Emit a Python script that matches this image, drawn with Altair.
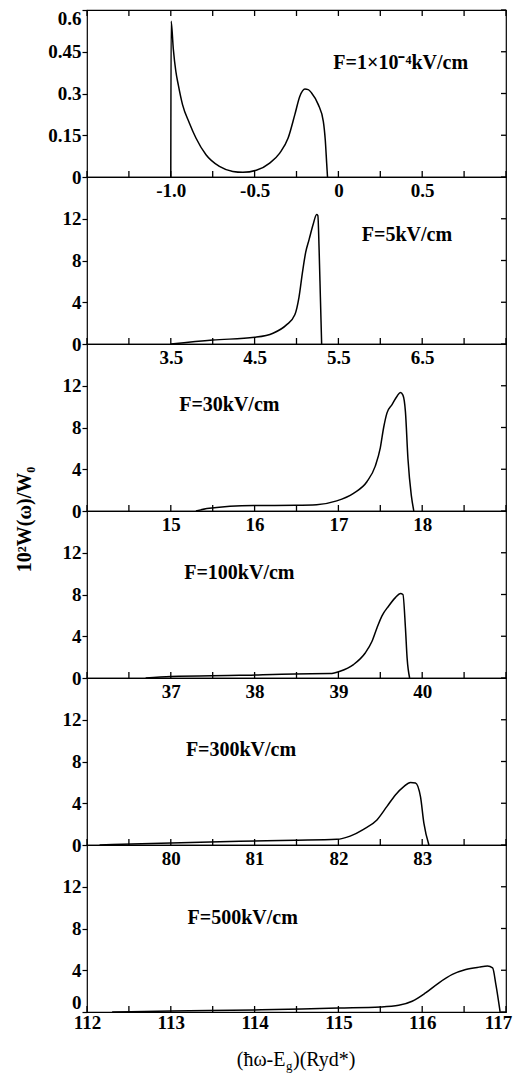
import altair as alt
import pandas as pd

# ---------------- data ----------------
p1_x = [-1.0, -0.998, -0.985, -0.97, -0.955, -0.93, -0.89, -0.85, -0.79, -0.71, -0.63,
        -0.57, -0.49, -0.41, -0.35, -0.30, -0.26, -0.23, -0.20, -0.18, -0.16, -0.12,
        -0.09, -0.078, -0.07, -0.065]
p1_y = [0.0, 0.56, 0.46, 0.38, 0.33, 0.26, 0.195, 0.14, 0.08, 0.038, 0.02,
        0.017, 0.024, 0.05, 0.086, 0.14, 0.224, 0.29, 0.316, 0.314, 0.302, 0.26,
        0.20, 0.13, 0.05, 0.0]

p2_x = [3.5, 4.0, 4.5, 4.72, 4.88, 4.98, 5.03, 5.07, 5.11, 5.15, 5.20, 5.24, 5.255,
        5.27, 5.285, 5.30]
p2_y = [0.0, 0.38, 0.64, 1.03, 1.83, 2.8, 4.5, 6.8, 8.8, 10.0, 11.5, 12.4, 12.3,
        9.0, 4.5, 0.0]

p3_x = [15.3, 15.46, 15.99, 16.49, 16.74, 16.98, 17.18, 17.34, 17.44, 17.50, 17.54,
        17.58, 17.64, 17.70, 17.74, 17.77, 17.80, 17.83, 17.87, 17.90]
p3_y = [0.0, 0.26, 0.52, 0.55, 0.61, 0.97, 1.7, 2.8, 4.3, 6.05, 8.0,
        9.4, 10.2, 11.0, 11.36, 11.1, 9.5, 5.0, 1.5, 0.0]

p4_x = [36.7, 37.0, 37.82, 38.48, 38.9, 39.02, 39.18, 39.32, 39.40, 39.46, 39.52,
        39.60, 39.68, 39.74, 39.77, 39.80, 39.82, 39.85]
p4_y = [0.0, 0.15, 0.26, 0.39, 0.42, 0.65, 1.29, 2.4, 3.5, 4.8, 5.96,
        6.9, 7.7, 8.1, 8.0, 4.8, 1.9, 0.0]

p5_x = [79.15, 80.0, 80.82, 81.48, 81.98, 82.14, 82.30, 82.46, 82.58, 82.68, 82.78,
        82.86, 82.92, 82.98, 83.02, 83.08]
p5_y = [0.0, 0.2, 0.35, 0.45, 0.54, 0.85, 1.5, 2.4, 3.7, 4.8, 5.6,
        6.0, 5.95, 4.6, 2.1, 0.0]

p6_x = [112.3, 113.0, 114.0, 114.56, 115.0, 115.5, 115.72, 115.88, 116.04, 116.2,
        116.36, 116.52, 116.68, 116.78, 116.84, 116.88, 116.93]
p6_y = [0.0, 0.1, 0.2, 0.29, 0.38, 0.48, 0.64, 1.03, 1.83, 2.8,
        3.6, 4.07, 4.3, 4.4, 4.23, 2.6, 0.0]

notes = ["F=1×10⁻⁴kV/cm", "F=5kV/cm", "F=30kV/cm", "F=100kV/cm", "F=300kV/cm", "F=500kV/cm"]
note_x = [-0.03, 5.78, 15.1, 37.16, 80.18, 113.2]
note_y = [0.41, 10.46, 10.2, 10.1, 9.06, 8.97]

x_domains = [[-1.5, 1.0], [2.5, 7.5], [14, 19], [36, 41], [79, 84], [112, 117]]
x_tick_step = [0.25, 0.5, 0.5, 0.5, 0.5, 0.5]
x_label_values = [[-1.0, -0.5, 0, 0.5], [3.5, 4.5, 5.5, 6.5], [15, 16, 17, 18],
                  [37, 38, 39, 40], [80, 81, 82, 83], [112, 113, 114, 115, 116, 117]]
x_label_texts = [["-1.0", "-0.5", "0", "0.5"], ["3.5", "4.5", "5.5", "6.5"],
                 ["15", "16", "17", "18"], ["37", "38", "39", "40"],
                 ["80", "81", "82", "83"], ["112", "113", "114", "115", "116", "117"]]

y_domains = [[0, 0.6], [0, 16], [0, 16], [0, 16], [0, 16], [0, 16]]
y_label_values = [[0, 0.15, 0.3, 0.45, 0.6]] + [[0, 4, 8, 12]] * 5
y_label_texts = [["0", "0.15", "0.3", "0.45", "0.6"]] + [["0", "4", "8", "12"]] * 5

series_x = [p1_x, p2_x, p3_x, p4_x, p5_x, p6_x]
series_y = [p1_y, p2_y, p3_y, p4_y, p5_y, p6_y]

y_title = "10²W(ω)/W₀"
x_title_parts = ["(ħω-E", "g", ")(Ryd*)"]

FONT = "Liberation Serif"
W, H = 419, 167
TICK_IN_X = 6   # inward tick length, bottom / top
TICK_IN_Y = 5   # inward tick length, right side


def label_expr(vals, texts):
    parts = " : ".join(f"abs(datum.value - ({v})) < 1e-6 ? '{t}'" for v, t in zip(vals, texts))
    return parts + " : ''"


def tick_list(dom, step):
    n = int(round((dom[1] - dom[0]) / step))
    return [round(dom[0] + k * step, 6) for k in range(n + 1)]


def make_panel(i):
    df = pd.DataFrame({"x": series_x[i], "y": series_y[i]})
    ndf = pd.DataFrame({"x": [note_x[i]], "y": [note_y[i]], "t": [notes[i]]})
    xsc = alt.Scale(domain=x_domains[i], nice=False, zero=False)
    ysc = alt.Scale(domain=y_domains[i], nice=False, zero=False)
    ticks = tick_list(x_domains[i], x_tick_step[i])

    bx = dict(orient="bottom", values=x_label_values[i],
              labelExpr=label_expr(x_label_values[i], x_label_texts[i]),
              ticks=False, labelPadding=(4 if i < 5 else 1),
              domain=False, grid=False, labelFlush=False, labelOverlap=False,
              title=None)
    if i == 5:
        bx.update(labelOffset={"condition": {"test": "datum.value > 116.9", "value": -8},
                               "value": 0})

    ly = dict(orient="left", values=y_label_values[i],
              labelExpr=label_expr(y_label_values[i], y_label_texts[i]),
              tickSize=5, labelPadding=1, domain=False, grid=False,
              labelFlush=False, labelOverlap=False)
    if i == 0:
        ly.update(labelBaseline={"condition": {"test": "datum.value > 0.59", "value": "top"},
                                 "value": "middle"},
                  labelOffset={"condition": {"test": "datum.value > 0.59", "value": -1},
                               "value": 0})
    if i == 5:
        ly.update(labelBaseline={"condition": {"test": "datum.value < 0.1", "value": "bottom"},
                                 "value": "middle"})
    if i == 2:
        ly.update(title=y_title, titleX=-63, titleY=175, titleAngle=270,
                  titleAlign="center", titleBaseline="middle")
    else:
        ly.update(title=None)

    line = alt.Chart(df).mark_line(color="black", strokeWidth=1.5,
                                   interpolate="monotone").encode(
        x=alt.X("x:Q", scale=xsc, axis=alt.Axis(**bx)),
        y=alt.Y("y:Q", scale=ysc, axis=alt.Axis(**ly)),
    )

    text = alt.Chart(ndf).mark_text(align="left", baseline="middle", font=FONT,
                                    fontSize=20, fontWeight="bold", color="black").encode(
        x=alt.X("x:Q", scale=xsc, axis=None),
        y=alt.Y("y:Q", scale=ysc, axis=None),
        text="t:N",
    )

    # inward ticks along the bottom edge (positions through the x scale)
    tdf = pd.DataFrame({"v": ticks})
    bticks = alt.Chart(tdf).mark_rule(color="black", strokeWidth=1.3).encode(
        x=alt.X("v:Q", scale=xsc, axis=None),
        y=alt.value(H - TICK_IN_X), y2=alt.value(H),
    )
    # inward ticks along the right edge (positions through the y scale)
    ydf = pd.DataFrame({"v": y_label_values[i]})
    rticks = alt.Chart(ydf).mark_rule(color="black", strokeWidth=1.3).encode(
        y=alt.Y("v:Q", scale=ysc, axis=None),
        x=alt.value(W - TICK_IN_Y), x2=alt.value(W),
    )
    layers = [line, text, bticks, rticks]
    if i == 0:
        tticks = alt.Chart(tdf).mark_rule(color="black", strokeWidth=1.3).encode(
            x=alt.X("v:Q", scale=xsc, axis=None),
            y=alt.value(0), y2=alt.value(TICK_IN_X),
        )
        layers.append(tticks)
    if i == 5:
        cx = W / 2 - 11
        ty = 215
        t1 = alt.Chart(pd.DataFrame({"t": [x_title_parts[0]]})).mark_text(
            align="right", baseline="middle", font=FONT, fontSize=20, color="black"
        ).encode(x=alt.value(cx), y=alt.value(ty), text="t:N")
        t2 = alt.Chart(pd.DataFrame({"t": [x_title_parts[1]]})).mark_text(
            align="left", baseline="middle", font=FONT, fontSize=13, color="black"
        ).encode(x=alt.value(cx + 0.5), y=alt.value(ty + 6), text="t:N")
        t3 = alt.Chart(pd.DataFrame({"t": [x_title_parts[2]]})).mark_text(
            align="left", baseline="middle", font=FONT, fontSize=20, color="black"
        ).encode(x=alt.value(cx + 7.5), y=alt.value(ty), text="t:N")
        layers += [t1, t2, t3]
    return alt.layer(*layers).resolve_axis(x="independent", y="independent").properties(
        width=W, height=H)


panels = [make_panel(i) for i in range(6)]

chart = alt.vconcat(*panels, spacing=0, bounds="flush").properties(
    padding={"left": 5, "top": 0, "right": 0, "bottom": 0}
).configure_view(
    stroke="black", strokeWidth=1.2
).configure_axis(
    labelFont=FONT, labelFontSize=19, labelFontWeight="bold", labelColor="black",
    tickColor="black", tickWidth=1.2,
    titleFont=FONT, titleFontSize=20, titleFontWeight="bold", titleColor="black",
)

chart.save("out.html", embed_options={"renderer": "svg", "actions": False})
